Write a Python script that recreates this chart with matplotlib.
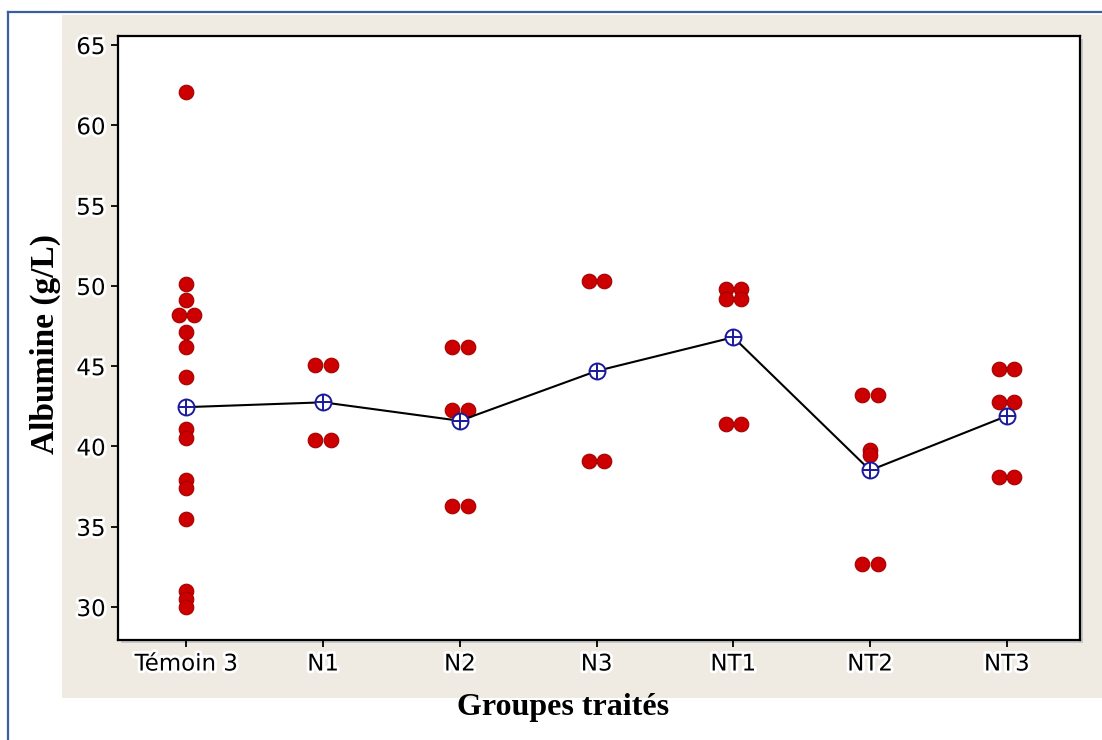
"""Individual value plot: Albumine (g/L) by treated group, with group means joined."""
import matplotlib
matplotlib.use("Agg")
import matplotlib.pyplot as plt
import matplotlib.patheffects as pe
from matplotlib.patches import Rectangle
from matplotlib.lines import Line2D
import numpy as np

groups = ["Témoin 3", "N1", "N2", "N3", "NT1", "NT2", "NT3"]
temoin3 = [62.1, 50.1, 49.1, 48.2, 48.2, 47.1, 46.2, 44.3, 41.1, 40.5,
           37.9, 37.4, 35.5, 31.0, 30.5, 30.0]
n1 = [45.1, 45.1, 40.4, 40.4]
n2 = [46.2, 46.2, 42.3, 42.3, 36.3, 36.3]
n3 = [50.3, 50.3, 39.1, 39.1]
nt1 = [49.8, 49.8, 49.2, 49.2, 41.4, 41.4]
nt2 = [43.2, 43.2, 39.8, 39.5, 32.7, 32.7]
nt3 = [44.8, 44.8, 42.8, 42.8, 38.1, 38.1]
yticks = [30, 35, 40, 45, 50, 55, 60, 65]

values = [temoin3, n1, n2, n3, nt1, nt2, nt3]
RED, RED_EDGE, NAVY, BEIGE, FRAME_BLUE = "#cc0000", "#a30000", "#1a1a9c", "#efebe2", "#3a5fa0"

W, H = 1102, 740
fig = plt.figure(figsize=(W / 100, H / 100), dpi=100)
fig.patch.set_facecolor("white")

# beige panel + thin blue page frame
fig.patches.append(Rectangle((62 / W, 1 - 698 / H), 1 - 62 / W, (698 - 15) / H,
                             transform=fig.transFigure, facecolor=BEIGE, edgecolor="none", zorder=-2))
fig.lines.append(Line2D([8 / W, 8 / W], [0, 1 - 12 / H], transform=fig.transFigure,
                        color=FRAME_BLUE, lw=1.6))
fig.lines.append(Line2D([8 / W, 1], [1 - 12 / H, 1 - 12 / H], transform=fig.transFigure,
                        color=FRAME_BLUE, lw=1.6))

ax_l, ax_r, ax_t, ax_b = 118 / W, 1080 / W, 1 - 36 / H, 1 - 640 / H
# soft shadow behind the plot frame
fig.patches.append(Rectangle((ax_l + 3 / W, ax_b - 3 / H), ax_r - ax_l, ax_t - ax_b,
                             transform=fig.transFigure, facecolor="#c8c8c8", edgecolor="none", zorder=-1))
ax = fig.add_axes([ax_l, ax_b, ax_r - ax_l, ax_t - ax_b])
ax.set_zorder(1)
ax.set_facecolor("white")

# individual values: tied values sit side by side
for i, vals in enumerate(values):
    vals = np.array(vals)
    xs = np.full(len(vals), float(i))
    for v in np.unique(vals):
        idx = np.where(vals == v)[0]
        if len(idx) == 2:
            xs[idx[0]] -= 0.056
            xs[idx[1]] += 0.056
    ax.plot(xs, vals, "o", ms=10.5, color=RED, mec=RED_EDGE, mew=0.8, zorder=3)

means = [np.mean(v) for v in values]
x = np.arange(len(groups))
ax.plot(x, means, "-", color="black", lw=1.5, zorder=4)
ax.plot(x, means, "o", ms=11.5, mfc="white", mec=NAVY, mew=1.4, zorder=5)
ax.plot(x, means, "+", ms=11.5, color=NAVY, mew=1.4, zorder=6)

ax.set_xlim(-0.5, 6.535)
ax.set_ylim(27.95, 65.56)
ax.set_xticks(x)
ax.set_xticklabels(groups)
ax.set_yticks(yticks)
for s in ax.spines.values():
    s.set_linewidth(1.6)
ax.tick_params(direction="out", length=5, width=1.3, labelsize=16.5, pad=4)
halo = [pe.withStroke(linewidth=4, foreground="white")]
for lab in ax.get_xticklabels() + ax.get_yticklabels():
    lab.set_path_effects(halo)
    lab.set_family("DejaVu Sans")

fig.text(45 / W, 1 - 344 / H, "Albumine (g/L)", rotation=90, ha="center", va="center",
         family="Liberation Serif", weight="bold", fontsize=24)
fig.text(563 / W, 1 - 707 / H, "Groupes traités", ha="center", va="center",
         family="Liberation Serif", weight="bold", fontsize=23)

fig.savefig("out.png", dpi=100)
